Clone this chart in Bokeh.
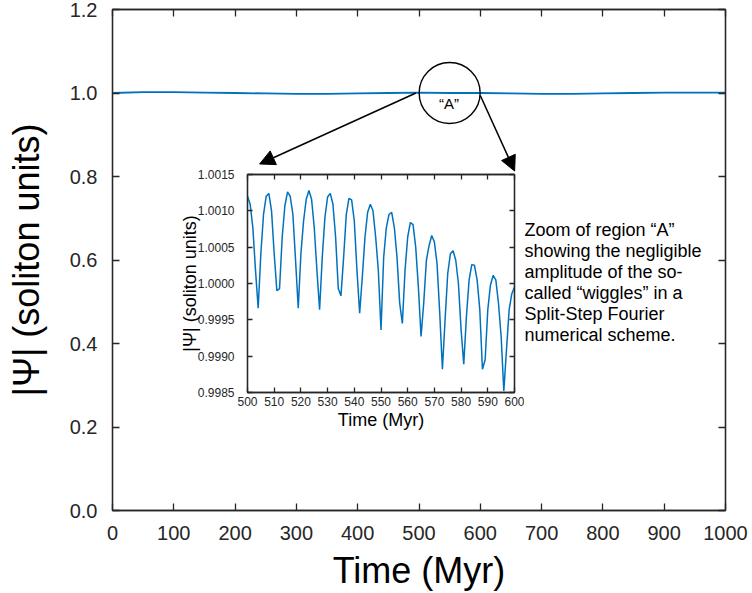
from bokeh.plotting import figure
from bokeh.models import (Arrow, NormalHead, LinearAxis, FixedTicker,
                          NumeralTickFormatter, CustomJSTickFormatter, ColumnDataSource)
from bokeh.layouts import column
from bokeh.core.properties import value
from bokeh.embed import file_html
from bokeh.resources import INLINE

# ---------------- data ----------------
main_time = [0, 50, 100, 150, 200, 250, 300, 350, 400, 450, 500,
             550, 600, 650, 700, 750, 800, 850, 900, 950, 1000]
main_psi = [1.000, 1.002, 1.002, 1.001, 1.000, 0.999, 0.998, 0.998, 0.999, 1.000, 1.001,
            1.000, 1.000, 0.999, 0.998, 0.998, 0.999, 1.000, 1.001, 1.001, 1.001]

zoom_time = list(range(500, 601))
zoom_psi = [
    1.00120, 1.00109, 1.00077, 1.00018, 0.99966, 1.00041, 1.00095, 1.00120, 1.00124, 1.00100,
    1.00041, 0.99990, 0.99993, 1.00064, 1.00107, 1.00126, 1.00120, 1.00095, 1.00032, 0.99966,
    1.00041, 1.00086, 1.00116, 1.00128, 1.00116, 1.00077, 1.00018, 0.99964, 1.00036, 1.00091,
    1.00119, 1.00124, 1.00109, 1.00064, 0.99993, 0.99983, 1.00036, 1.00095, 1.00117, 1.00115,
    1.00086, 1.00018, 0.99959, 1.00009, 1.00064, 1.00098, 1.00109, 1.00100, 1.00064, 1.00018,
    0.99936, 1.00036, 1.00077, 1.00095, 1.00098, 1.00077, 1.00036, 0.99973, 0.99945, 1.00018,
    1.00064, 1.00084, 1.00081, 1.00050, 0.99995, 0.99927, 0.99973, 1.00032, 1.00052, 1.00066,
    1.00057, 1.00027, 0.99959, 0.99882, 0.99950, 1.00014, 1.00041, 1.00045, 1.00032, 1.00000,
    0.99936, 0.99889, 0.99955, 1.00005, 1.00026, 1.00025, 1.00005, 0.99964, 0.99882, 0.99895,
    0.99964, 0.99998, 1.00011, 1.00005, 0.99973, 0.99927, 0.99852, 0.99909, 0.99964, 0.99986,
    0.99995,
]

main_x_ticks = [0, 100, 200, 300, 400, 500, 600, 700, 800, 900, 1000]
main_y_ticks = [0.0, 0.2, 0.4, 0.6, 0.8, 1.0, 1.2]
zoom_x_ticks = [500, 510, 520, 530, 540, 550, 560, 570, 580, 590, 600]
zoom_y_ticks = [0.9985, 0.9990, 0.9995, 1.0000, 1.0005, 1.0010, 1.0015]

# annotation anchors (data units of the main plot)
circle_x = [550]
circle_y = [1.0]
circle_label = ["\u201cA\u201d"]
circle_label_x = [549]
circle_label_y = [0.975]
arrow_x_start = [495, 600]
arrow_y_start = [1.0, 0.994]
arrow_x_end = [240, 656]
arrow_y_end = [0.830, 0.813]
note_x = [672]
note_y = [0.697]
note_text = ["Zoom of region \u201cA\u201d\nshowing the negligible\namplitude of the so-\n"
             "called \u201cwiggles\u201d in a\nSplit-Step Fourier\nnumerical scheme."]

FONT = "Liberation Sans"
AX = "#262626"
BLUE = "#0072BD"


def style_axis(ax, size, standoff, tick_in=7):
    ax.major_tick_in = tick_in
    ax.major_tick_out = 0
    ax.minor_tick_in = 0
    ax.minor_tick_out = 0
    ax.axis_line_color = AX
    ax.axis_line_width = 1.3
    ax.major_tick_line_color = AX
    ax.major_tick_line_width = 1.3
    ax.major_label_text_font = FONT
    ax.major_label_text_font_size = size
    ax.major_label_text_color = AX
    ax.major_label_standoff = standoff


def mirror(fig, ticks, side, tick_in):
    ax = LinearAxis(ticker=FixedTicker(ticks=ticks),
                    formatter=CustomJSTickFormatter(code="return ''"))
    style_axis(ax, "1px", 0, tick_in)
    fig.add_layout(ax, side)


# ---------------- main figure ----------------
p = figure(width=752, height=593, x_range=(0, 1000), y_range=(0, 1.2),
           output_backend="svg", toolbar_location=None,
           min_border_left=111, min_border_right=27, min_border_top=9, min_border_bottom=83)
p.grid.visible = False
p.outline_line_color = AX
p.outline_line_width = 1.3

p.xaxis.ticker = FixedTicker(ticks=main_x_ticks)
p.yaxis.ticker = FixedTicker(ticks=main_y_ticks)
p.yaxis.formatter = NumeralTickFormatter(format="0.0")
p.xaxis.formatter = NumeralTickFormatter(format="0")
style_axis(p.xaxis[0], "20px", 15)
style_axis(p.yaxis[0], "20px", 15)
p.xaxis.axis_label = "Time (Myr)"
p.yaxis.axis_label = "|\u03a8| (soliton units)"
for ax in (p.xaxis[0], p.yaxis[0]):
    ax.axis_label_text_font = FONT
    ax.axis_label_text_font_size = "36px"
    ax.axis_label_text_font_style = "normal"
    ax.axis_label_text_color = "black"
p.xaxis.axis_label_standoff = 7
p.yaxis.axis_label_standoff = 20
mirror(p, main_x_ticks, "above", 7)
mirror(p, main_y_ticks, "right", 7)

p.line(main_time, main_psi, line_color=BLUE, line_width=1.8)

p.scatter(x=circle_x, y=circle_y, marker="circle", size=61,
          fill_color=None, line_color="black", line_width=1.4)
p.text(x=circle_label_x, y=circle_label_y, text=circle_label,
       text_font=value(FONT), text_font_size="15px", text_color="black",
       text_align="center", text_baseline="middle")

arrows = ColumnDataSource(dict(x0=arrow_x_start, y0=arrow_y_start,
                               x1=arrow_x_end, y1=arrow_y_end))
p.add_layout(Arrow(source=arrows, x_start="x0", y_start="y0", x_end="x1", y_end="y1",
                   line_color="black", line_width=1.5,
                   end=NormalHead(size=15, fill_color="black", line_color="black")))

p.text(x=note_x, y=note_y, text=note_text, text_font=value(FONT),
       text_font_size="18px", text_color="black", text_align="left",
       text_baseline="top", text_line_height=1.05)

# ---------------- inset ----------------
inset = figure(frame_width=267, frame_height=218,
               x_range=(500, 600), y_range=(0.9985, 1.0015),
               output_backend="svg", toolbar_location=None,
               min_border_left=112, min_border_right=10, min_border_top=14, min_border_bottom=50,
               styles={"position": "absolute", "left": "135px", "top": "160px"})
inset.grid.visible = False
inset.background_fill_color = None
inset.border_fill_color = None
inset.outline_line_color = AX
inset.outline_line_width = 1.3
inset.xaxis.ticker = FixedTicker(ticks=zoom_x_ticks)
inset.yaxis.ticker = FixedTicker(ticks=zoom_y_ticks)
inset.xaxis.formatter = NumeralTickFormatter(format="0")
inset.yaxis.formatter = NumeralTickFormatter(format="0.0000")
style_axis(inset.xaxis[0], "12px", 4, 5)
style_axis(inset.yaxis[0], "12px", 13, 5)
inset.xaxis.axis_label = "Time (Myr)"
inset.yaxis.axis_label = "|\u03a8| (soliton units)"
for ax in (inset.xaxis[0], inset.yaxis[0]):
    ax.axis_label_text_font = FONT
    ax.axis_label_text_font_size = "18px"
    ax.axis_label_text_font_style = "normal"
    ax.axis_label_text_color = "black"
inset.xaxis.axis_label_standoff = 1
inset.yaxis.axis_label_standoff = -5
mirror(inset, zoom_x_ticks, "above", 5)
mirror(inset, zoom_y_ticks, "right", 5)

inset.line(zoom_time, zoom_psi, line_color=BLUE, line_width=1.5)

layout = column(p, inset, styles={"position": "relative"})

open("out.html", "w").write(file_html(layout, INLINE))
